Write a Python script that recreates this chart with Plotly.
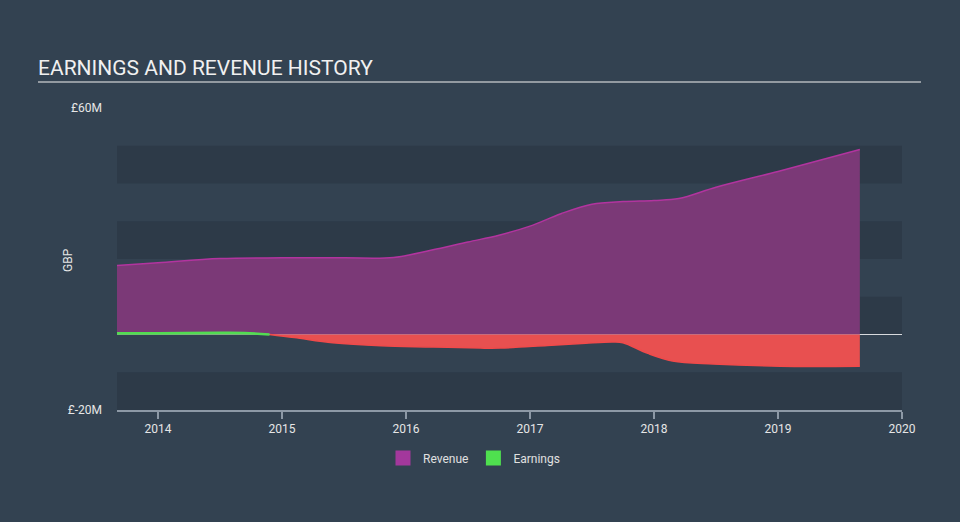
import plotly.graph_objects as go

# ---- data (GBP millions, decimal years) ----
rev_x = [2013.67, 2014.0, 2014.5, 2015.0, 2015.5, 2015.9, 2016.2, 2016.5, 2016.75, 2017.0,
         2017.25, 2017.5, 2017.75, 2018.0, 2018.2, 2018.5, 2019.0, 2019.66]
rev_y = [18.3, 19.0, 20.1, 20.3, 20.3, 20.4, 22.3, 24.5, 26.3, 28.7,
         32.0, 34.5, 35.2, 35.5, 36.0, 39.0, 43.2, 49.0]

earn_pos_x = [2013.67, 2014.0, 2014.5, 2014.7, 2014.9]
earn_pos_y = [0.3, 0.35, 0.45, 0.4, 0.0]

earn_neg_x = [2014.9, 2015.1, 2015.41, 2015.8, 2016.22, 2016.6, 2016.76, 2017.14, 2017.45,
              2017.67, 2017.75, 2017.95, 2018.15, 2018.48, 2019.02, 2019.66]
earn_neg_y = [0.0, -0.8, -2.2, -3.0, -3.3, -3.6, -3.6, -2.9, -2.3,
              -2.0, -2.2, -5.0, -7.0, -7.8, -8.4, -8.4]

x_ticks = [2014, 2015, 2016, 2017, 2018, 2019, 2020]
y_ticks = [60, -20]
y_tick_text = ["£60M", "£-20M"]
bands = [(40, 50), (20, 30), (0, 10), (-20, -10)]

REV_LINE = "#b2349f"
REV_FILL = "#7b3977"
NEG_LINE = "#f04a4a"
NEG_FILL = "#e85050"
POS_LINE = "#52dc52"

fig = go.Figure()
fig.add_trace(go.Scatter(x=rev_x, y=rev_y, mode="lines", line=dict(color=REV_LINE, width=1.5, shape="spline"),
                         fill="tozeroy", fillcolor=REV_FILL, showlegend=False, hoverinfo="skip"))
fig.add_trace(go.Scatter(x=earn_neg_x, y=earn_neg_y, mode="lines", line=dict(color=NEG_LINE, width=1.5, shape="spline"),
                         fill="tozeroy", fillcolor=NEG_FILL, showlegend=False, hoverinfo="skip"))
fig.add_trace(go.Scatter(x=earn_pos_x, y=earn_pos_y, mode="lines", line=dict(color=POS_LINE, width=2.5, shape="spline"),
                         fill="tozeroy", fillcolor=POS_LINE, showlegend=False, hoverinfo="skip"))
# legend entries
fig.add_trace(go.Scatter(x=[None], y=[None], mode="markers", name="Revenue",
                         marker=dict(symbol="square", size=15, color="#a3389c")))
fig.add_trace(go.Scatter(x=[None], y=[None], mode="markers", name="Earnings",
                         marker=dict(symbol="square", size=15, color="#4fe04f")))

shapes = []
for lo, hi in bands:
    shapes.append(dict(type="rect", xref="paper", yref="y", x0=0, x1=1, y0=lo, y1=hi,
                       fillcolor="#2d3a48", line=dict(width=0), layer="below"))
# title underline
shapes.append(dict(type="line", xref="paper", yref="paper", x0=(38 - 117) / 785, x1=(921 - 117) / 785,
                   y0=(410 - 82) / 302, y1=(410 - 82) / 302, line=dict(color="#b4b8bd", width=1.5)))

fig.update_layout(
    width=960, height=522,
    margin=dict(l=117, r=58, t=108, b=112),
    paper_bgcolor="#334251",
    plot_bgcolor="rgba(0,0,0,0)",
    font=dict(family="Roboto", color="#e6e6e6", size=12),
    title=dict(text="EARNINGS AND REVENUE HISTORY", x=38 / 960, xanchor="left", xref="container",
               y=1 - 68 / 522, yanchor="middle", yref="container",
               font=dict(family="Roboto", size=21, color="#f0f0f0")),
    shapes=shapes,
    showlegend=True,
    legend=dict(orientation="h", x=(474 - 117) / 785, xanchor="center", y=(410 - 458) / 302, yanchor="middle",
                font=dict(size=12, color="#e0e0e0"), bgcolor="rgba(0,0,0,0)", itemwidth=30),
    annotations=[dict(text="GBP", xref="paper", yref="paper", x=(68 - 117) / 785, y=(410 - 260) / 302,
                      textangle=-90, showarrow=False, font=dict(size=12, color="#e6e6e6"),
                      xanchor="center", yanchor="middle")],
)
fig.update_xaxes(range=[2013.67, 2020.0], tickvals=x_ticks, ticktext=[str(t) for t in x_ticks],
                 showgrid=False, zeroline=False, showline=True, linecolor="#8d99a6", linewidth=1.5,
                 ticks="outside", ticklen=7, tickcolor="#8d99a6", tickwidth=1.5,
                 tickfont=dict(size=12, color="#e6e6e6"), fixedrange=True)
fig.update_yaxes(range=[-20, 60], tickvals=y_ticks, ticktext=y_tick_text, showgrid=False,
                 zeroline=True, zerolinecolor="#d8dade", zerolinewidth=1.2, showline=False,
                 ticks="", ticklabelstandoff=14, tickfont=dict(size=12, color="#e6e6e6"), fixedrange=True)

fig.write_html("out.html")
